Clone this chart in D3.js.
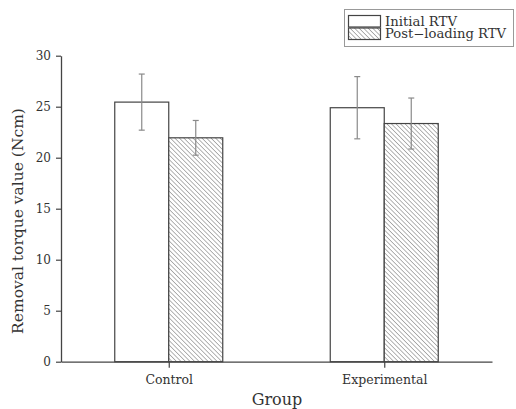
<!DOCTYPE html>
<html><head><meta charset="utf-8">
<script src="https://cdn.jsdelivr.net/npm/d3@7"></script>
<style>body{margin:0;background:#fff}svg{display:block}text{font-family:"DejaVu Serif","Liberation Serif",serif;fill:#333}</style>
</head><body><div id="chart"></div>
<script>
const groups = ["Control", "Experimental"];
const seriesNames = ["Initial RTV", "Post-loading RTV"];
const initialMean = [25.45, 24.9];
const initialErr = [2.75, 3.05];
const postMean = [21.95, 23.35];
const postErr = [1.7, 2.5];
const yTicks = [0, 5, 10, 15, 20, 25, 30];

const W = 516, H = 409;
const FONT = '"DejaVu Serif","Liberation Serif",serif';
const svg = d3.select("#chart").append("svg").attr("width", W).attr("height", H);
const defs = svg.append("defs");
const pat = defs.append("pattern").attr("id", "hatch").attr("patternUnits", "userSpaceOnUse")
  .attr("width", 3.2).attr("height", 3.2).attr("patternTransform", "rotate(-45)");
pat.append("rect").attr("width", 3.2).attr("height", 3.2).attr("fill", "#fff");
pat.append("line").attr("x1", 0).attr("y1", 0).attr("x2", 0).attr("y2", 3.2)
  .attr("stroke", "#777").attr("stroke-width", 1.1);

const x0 = 61, x1 = 492, yTop = 55.7, yBot = 361.7;
const x = d3.scalePoint().domain(groups).range([x0, x1]).padding(0.5);
const y = d3.scaleLinear().domain([0, 30]).range([yBot, yTop]);
const sub = d3.scaleBand().domain(seriesNames).range([-54, 54]).padding(0);

const data = groups.map((g, i) => [
  {g, s: seriesNames[0], v: initialMean[i], e: initialErr[i]},
  {g, s: seriesNames[1], v: postMean[i], e: postErr[i]}
]).flat();

// bars
svg.selectAll("rect.bar").data(data).enter().append("rect")
  .attr("x", d => x(d.g) + sub(d.s))
  .attr("y", d => y(d.v))
  .attr("width", sub.bandwidth())
  .attr("height", d => y(0) - y(d.v))
  .attr("fill", d => d.s === seriesNames[0] ? "#fff" : "url(#hatch)")
  .attr("stroke", "#444").attr("stroke-width", 1.2);

// error bars
const eg = svg.selectAll("g.err").data(data).enter().append("g")
  .attr("stroke", "#8a8a8a").attr("stroke-width", 1.2);
eg.append("line")
  .attr("x1", d => x(d.g) + sub(d.s) + sub.bandwidth() / 2)
  .attr("x2", d => x(d.g) + sub(d.s) + sub.bandwidth() / 2)
  .attr("y1", d => y(d.v + d.e)).attr("y2", d => y(d.v - d.e));
[1, -1].forEach(sg => {
  eg.append("line")
    .attr("x1", d => x(d.g) + sub(d.s) + sub.bandwidth() / 2 - 3)
    .attr("x2", d => x(d.g) + sub(d.s) + sub.bandwidth() / 2 + 3)
    .attr("y1", d => y(d.v + sg * d.e)).attr("y2", d => y(d.v + sg * d.e));
});

// axes
const yAxis = svg.append("g").attr("transform", `translate(${x0},0)`)
  .call(d3.axisLeft(y).tickValues(yTicks).tickSize(5).tickSizeOuter(0));
const xAxis = svg.append("g").attr("transform", `translate(0,${yBot})`)
  .call(d3.axisBottom(x).tickSize(6).tickSizeOuter(0).tickPadding(7));
[yAxis, xAxis].forEach(a => {
  a.select(".domain").attr("stroke", "#444").attr("stroke-width", 1.3);
  a.selectAll(".tick line").attr("stroke", "#444").attr("stroke-width", 1.2);
  a.selectAll("text").attr("font-family", FONT).attr("font-size", 12.5).attr("fill", "#555");
});
yAxis.selectAll("text").attr("font-size", 12).attr("dx", "-2");

// axis titles
svg.append("text").attr("transform", `translate(23,221) rotate(-90)`)
  .attr("text-anchor", "middle").attr("font-size", 15.5).attr("fill", "#444").text("Removal torque value (Ncm)");
svg.append("text").attr("x", 277).attr("y", 405)
  .attr("text-anchor", "middle").attr("font-size", 16).attr("fill", "#444").text("Group");

// legend
const lg = svg.append("g");
lg.append("rect").attr("x", 344.5).attr("y", 9.5).attr("width", 169).attr("height", 37)
  .attr("fill", "#fff").attr("stroke", "#999").attr("stroke-width", 1);
const legendLen = [72, 121];
seriesNames.forEach((s, i) => {
  lg.append("rect").attr("x", 348.5).attr("y", 15.5 + i * 12.5).attr("width", 32).attr("height", 11.5)
    .attr("fill", i === 0 ? "#fff" : "url(#hatch)").attr("stroke", "#444").attr("stroke-width", 1.2);
  lg.append("text").attr("x", 385).attr("y", 25.5 + i * 12.5).attr("font-size", 12).attr("fill", "#444")
    .attr("textLength", legendLen[i]).attr("lengthAdjust", "spacingAndGlyphs")
    .text(i === 0 ? "Initial RTV" : "Post\u2212loading RTV");
});
</script></body></html>
